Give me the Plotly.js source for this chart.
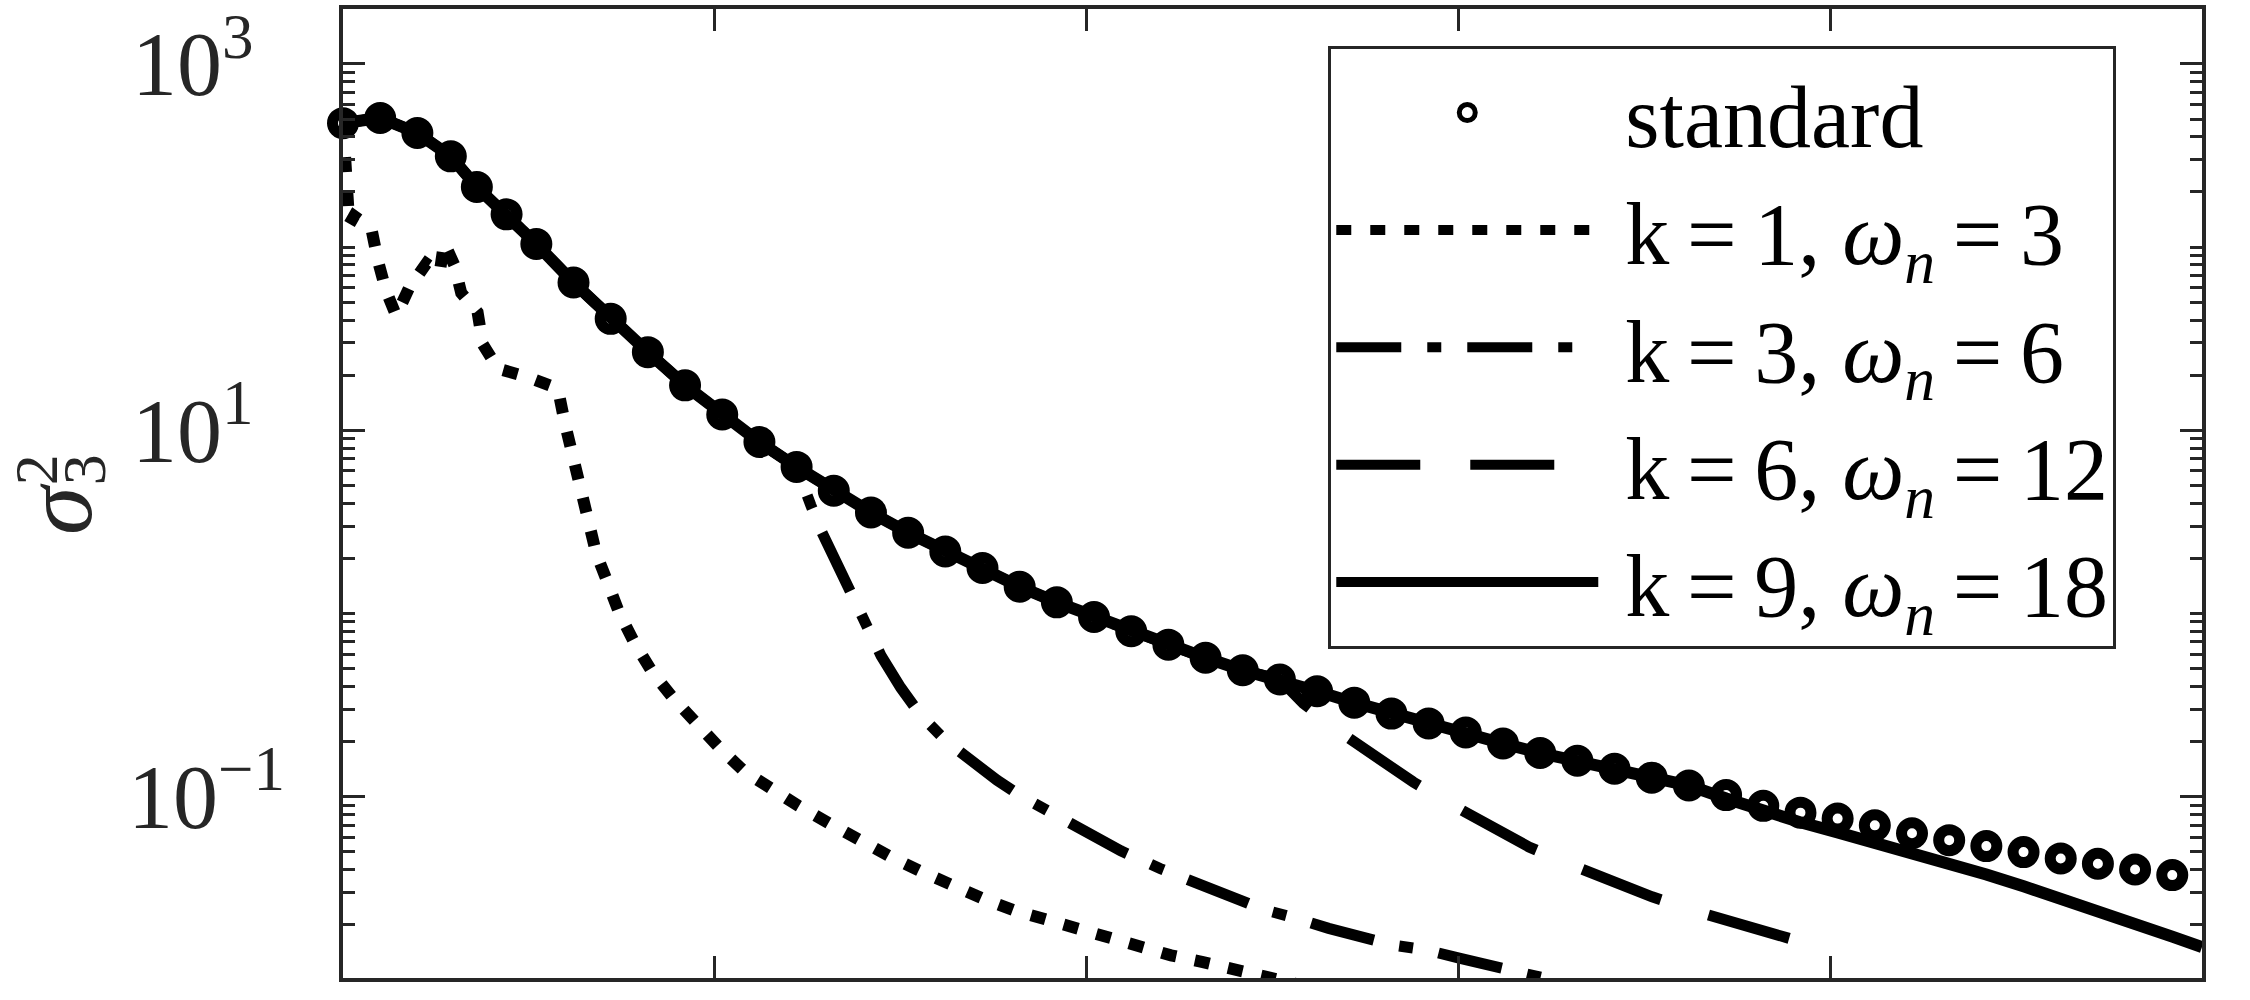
<!DOCTYPE html>
<html>
<head>
<meta charset="utf-8">
<script src="https://cdn.plot.ly/plotly-3.0.1.min.js"></script>
<style>html,body{margin:0;padding:0;background:#fff;}#chart{width:2250px;height:1000px;}</style>
</head>
<body>
<div id="chart"></div>
<script>
// ---- data ----
var seriesNames = ['standard', 'k=1, ω_n=3', 'k=3, ω_n=6', 'k=6, ω_n=12', 'k=9, ω_n=18'];
var legendLabels = [
  '\u00a0standard',
  '\u00a0k\u2009=\u20091, <i>ω</i><sub><i>n</i></sub>\u2009=\u20093',
  '\u00a0k\u2009=\u20093, <i>ω</i><sub><i>n</i></sub>\u2009=\u20096',
  '\u00a0k\u2009=\u20096, <i>ω</i><sub><i>n</i></sub>\u2009=\u200912',
  '\u00a0k\u2009=\u20099, <i>ω</i><sub><i>n</i></sub>\u2009=\u200918'
];

var stdX = [0, 1.0, 2.0, 2.9, 3.6, 4.4, 5.2, 6.2, 7.2, 8.2, 9.2, 10.2, 11.2, 12.2, 13.2, 14.2, 15.2, 16.2,
  17.2, 18.2, 19.2, 20.2, 21.2, 22.2, 23.2, 24.2, 25.2, 26.2, 27.2, 28.2, 29.2, 30.2, 31.2, 32.2, 33.2,
  34.2, 35.2, 36.2, 37.2, 38.2, 39.2, 40.2, 41.2, 42.2, 43.2, 44.2, 45.2, 46.2, 47.2, 48.2, 49.2];
var stdY = [475, 507, 420, 313, 213, 151, 104, 64.1, 40.6, 26.7, 17.6, 12.2, 8.63, 6.31, 4.68, 3.56, 2.76, 2.18,
  1.77, 1.40, 1.15, 0.957, 0.80, 0.676, 0.573, 0.490, 0.436, 0.376, 0.326, 0.284, 0.251, 0.224, 0.195, 0.173, 0.157,
  0.142, 0.127, 0.115, 0.102, 0.0891, 0.0818, 0.0759, 0.0697, 0.0631, 0.0579, 0.0537, 0.0498, 0.046, 0.043, 0.040, 0.0373];

var k1X = [0, 0.09, 0.17, 0.3, 0.76, 0.94, 1.16, 1.43, 1.78, 2.24, 2.6, 2.72, 3.0, 3.18, 3.62, 3.76, 4.17, 4.97,
  5.78, 5.96, 6.18, 6.36, 6.58, 6.81, 7.12, 7.43, 7.84, 8.33, 8.87, 9.45, 10.08, 10.78, 11.48, 12.25, 13.1,
  13.96, 14.74, 15.59, 16.36, 17.22, 18.07, 18.85, 19.7, 20.56, 21.33, 22.27, 23.13, 23.99, 24.76, 25.6];
var k1Y = [475, 195, 133, 148, 127, 84.1, 57.5, 42.3, 60.0, 81.3, 72.4, 106, 79.4, 56.2, 44.1, 29.5, 21.7, 19.5,
  16.9, 11.1, 7.46, 4.82, 3.24, 2.13, 1.47, 1.007, 0.690, 0.474, 0.347, 0.254, 0.189, 0.138, 0.110, 0.0891, 0.071,
  0.0564, 0.0468, 0.0387, 0.0327, 0.0277, 0.0239, 0.0216, 0.0191, 0.0168, 0.0151, 0.0136, 0.0125, 0.0115, 0.0106, 0.00955];

var k3X = [0, 1.0, 2.0, 2.9, 3.6, 4.4, 5.2, 6.2, 7.2, 8.2, 9.2, 10.2, 11.2, 12.2, 12.31, 12.58, 12.85, 13.25, 13.61,
  13.97, 14.47, 15.0, 15.54, 16.22, 16.89, 17.59, 18.28, 19.09, 19.84, 20.92, 21.99, 23.07, 24.76, 25.67, 26.51,
  28.22, 29.11, 30.05, 30.86, 31.69, 32.47];
var k3Y = [475, 507, 420, 313, 213, 151, 104, 64.1, 40.6, 26.7, 17.6, 12.2, 8.63, 6.31, 5.35, 3.91, 2.86, 1.91, 1.315,
  0.902, 0.589, 0.394, 0.278, 0.201, 0.156, 0.123, 0.0995, 0.0804, 0.0658, 0.0506, 0.0404, 0.0330, 0.0242, 0.0216, 0.0191,
  0.0155, 0.0146, 0.0131, 0.0120, 0.0110, 0.01005];

var k6X = [0, 1.0, 2.0, 2.9, 3.6, 4.4, 5.2, 6.2, 7.2, 8.2, 9.2, 10.2, 11.2, 12.2, 13.2, 14.2, 15.2, 16.2,
  17.2, 18.2, 19.2, 20.2, 21.2, 22.2, 23.2, 24.2, 25.2, 25.83, 26.9, 27.83, 28.79, 29.94, 30.88, 31.9, 33.09,
  34.14, 35.21, 36.5, 37.58, 38.63, 40.0];
var k6Y = [475, 507, 420, 313, 213, 151, 104, 64.1, 40.6, 26.7, 17.6, 12.2, 8.63, 6.31, 4.68, 3.56, 2.76, 2.18,
  1.77, 1.40, 1.15, 0.957, 0.80, 0.676, 0.573, 0.490, 0.436, 0.323, 0.219, 0.162, 0.120, 0.0877, 0.0682, 0.0531, 0.0419,
  0.0343, 0.0284, 0.0233, 0.0200, 0.0173, 0.0145];

var k9X = [0, 1.0, 2.0, 2.9, 3.6, 4.4, 5.2, 6.2, 7.2, 8.2, 9.2, 10.2, 11.2, 12.2, 13.2, 14.2, 15.2, 16.2,
  17.2, 18.2, 19.2, 20.2, 21.2, 22.2, 23.2, 24.2, 25.2, 26.2, 27.2, 28.2, 29.2, 30.2, 31.2, 32.2, 33.2,
  34.2, 35.2, 36.2, 37.2, 38.2, 39.2, 40.2, 41.2, 42.2, 43.2, 44.2, 45.2, 46.2, 47.2, 48.2, 49.2, 50];
var k9Y = [475, 507, 420, 313, 213, 151, 104, 64.1, 40.6, 26.7, 17.6, 12.2, 8.63, 6.31, 4.68, 3.56, 2.76, 2.18,
  1.77, 1.40, 1.15, 0.957, 0.80, 0.676, 0.573, 0.490, 0.436, 0.376, 0.326, 0.284, 0.251, 0.224, 0.195, 0.173, 0.157,
  0.142, 0.127, 0.115, 0.0977, 0.0832, 0.0724, 0.0638, 0.0562, 0.0495, 0.0432, 0.0376, 0.0324, 0.0279, 0.0237, 0.0202, 0.0172, 0.0151];

var xTickVals = [0, 10, 20, 30, 40, 50];
var yTickVals = [0.1, 10, 1000];
var yTickText = ['10<sup>\u22121</sup>', '10<sup>1\u00a0\u00a0</sup>', '10<sup>3\u00a0\u00a0</sup>'];
var yMinorVals = [0.02, 0.03, 0.04, 0.05, 0.06, 0.07, 0.08, 0.09,
  0.2, 0.3, 0.4, 0.5, 0.6, 0.7, 0.8, 0.9, 1,
  2, 3, 4, 5, 6, 7, 8, 9,
  20, 30, 40, 50, 60, 70, 80, 90, 100,
  200, 300, 400, 500, 600, 700, 800, 900];
var yTitleParts = ['σ', '2', '3'];

// ---- drawing ----
var ink = '#262626';
var serif = "'Liberation Serif', 'Times New Roman', serif";

var traces = [
  {x: stdX, y: stdY, name: legendLabels[0], mode: 'markers', legendgroup: 'g0', cliponaxis: false,
   marker: {symbol: 'circle-open', size: 21, color: '#000', line: {width: 11, color: '#000'}}},
  {x: k1X, y: k1Y, name: legendLabels[1], mode: 'lines', legendgroup: 'g1',
   line: {color: '#000', width: 12, dash: '15px,19px'}},
  {x: k3X, y: k3Y, name: legendLabels[2], mode: 'lines', legendgroup: 'g2',
   line: {color: '#000', width: 11, dash: '65px,26px,14px,26px'}},
  {x: k6X, y: k6Y, name: legendLabels[3], mode: 'lines', legendgroup: 'g3',
   line: {color: '#000', width: 11, dash: '84px,50px'}},
  {x: k9X, y: k9Y, name: legendLabels[4], mode: 'lines', legendgroup: 'g4',
   line: {color: '#000', width: 12}}
];

var layout = {
  width: 2250, height: 1000,
  paper_bgcolor: '#fff', plot_bgcolor: '#fff',
  margin: {l: 343, r: 48, t: 9, b: 22, pad: 0},
  showlegend: true,
  font: {family: serif, color: ink},
  xaxis: {
    type: 'linear', range: [0, 50], tickmode: 'array', tickvals: xTickVals,
    showticklabels: false, ticks: 'inside', ticklen: 22, tickwidth: 3, tickcolor: ink,
    showline: true, linecolor: ink, linewidth: 4, mirror: 'ticks',
    showgrid: false, zeroline: false
  },
  yaxis: {
    type: 'log', range: [-1.99, 3.30], tickmode: 'array', tickvals: yTickVals, ticktext: yTickText,
    ticks: 'inside', ticklen: 22, tickwidth: 3, tickcolor: ink,
    tickfont: {family: serif, size: 90, color: ink}, ticklabelstandoff: 36,
    showline: true, linecolor: ink, linewidth: 4, mirror: 'ticks',
    showgrid: false, zeroline: false,
    minor: {tickmode: 'array', tickvals: yMinorVals, ticks: 'inside', ticklen: 12, tickwidth: 3, tickcolor: ink, showgrid: false}
  },
  legend: {
    x: 0.530, y: 0.962, xanchor: 'left', yanchor: 'top',
    bgcolor: '#fff', bordercolor: ink, borderwidth: 3,
    font: {family: serif, size: 88, color: '#000'},
    itemwidth: 262, tracegroupgap: 0, itemclick: false
  },
  annotations: [
    {xref: 'paper', yref: 'paper', x: 0, xshift: -285, y: 0.484, text: '<i>' + yTitleParts[0] + '</i>',
     showarrow: false, textangle: -90, xanchor: 'center', yanchor: 'middle', font: {family: serif, size: 98, color: ink}},
    {xref: 'paper', yref: 'paper', x: 0, xshift: -307, y: 0.524, text: yTitleParts[1],
     showarrow: false, textangle: -90, xanchor: 'center', yanchor: 'middle', font: {family: serif, size: 62, color: ink}},
    {xref: 'paper', yref: 'paper', x: 0, xshift: -259, y: 0.524, text: yTitleParts[2],
     showarrow: false, textangle: -90, xanchor: 'center', yanchor: 'middle', font: {family: serif, size: 62, color: ink}}
  ]
};

Plotly.newPlot('chart', traces, layout, {displayModeBar: false, staticPlot: true});
</script>
</body>
</html>
